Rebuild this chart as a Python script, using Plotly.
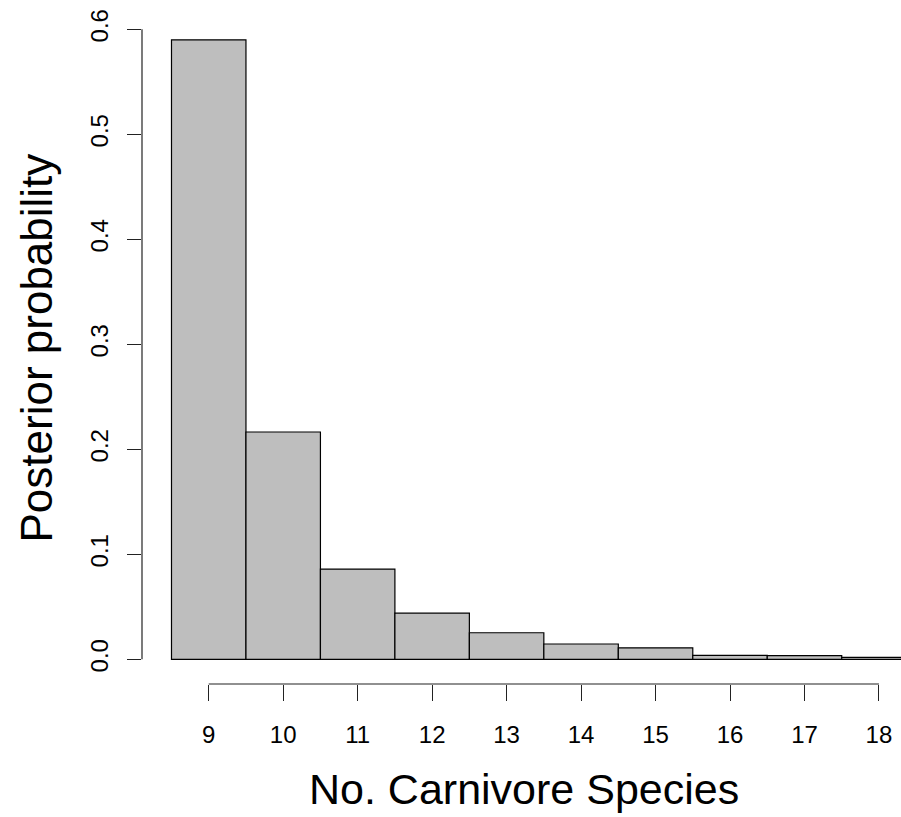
import plotly.graph_objects as go

species = [9, 10, 11, 12, 13, 14, 15, 16, 17, 18]
probability = [0.590, 0.2165, 0.086, 0.044, 0.0253, 0.0146, 0.011, 0.0038, 0.0035, 0.0018]
y_ticks = [0.0, 0.1, 0.2, 0.3, 0.4, 0.5, 0.6]
y_ticktext = ["0.0", "0.1", "0.2", "0.3", "0.4", "0.5", "0.6"]
x_ticks = species
x_ticktext = [str(s) for s in species]

FONT = "Liberation Sans, Arial, sans-serif"

fig = go.Figure()
fig.add_trace(go.Bar(
    x=species, y=probability, width=1.0,
    marker=dict(color="#BEBEBE", line=dict(color="#000000", width=1.2)),
    showlegend=False, hoverinfo="x+y",
))

fig.update_layout(
    width=901, height=817,
    margin=dict(l=142, r=0, t=20, b=133),
    paper_bgcolor="white", plot_bgcolor="white",
    font=dict(family=FONT, color="#000000"),
    xaxis=dict(
        range=[8.104, 18.296], tickmode="array", tickvals=x_ticks, ticktext=x_ticktext,
        ticks="outside", ticklen=16, tickwidth=1.2, tickcolor="#222222",
        showline=False, showgrid=False, zeroline=False,
        tickfont=dict(size=24, family=FONT), ticklabelstandoff=13,
    ),
    yaxis=dict(
        range=[-0.0235, 0.6089], tickmode="array", tickvals=y_ticks, ticktext=y_ticktext,
        ticks="outside", ticklen=14, tickwidth=1.2, tickcolor="#222222", tickangle=-90,
        showline=False, showgrid=False, zeroline=False,
        tickfont=dict(size=24, family=FONT), ticklabelstandoff=9,
    ),
    shapes=[
        dict(type="line", xref="x", yref="paper", x0=x_ticks[0], x1=x_ticks[-1], y0=0, y1=0,
             line=dict(color="#222222", width=1.2)),
        dict(type="line", xref="paper", yref="y", x0=0, x1=0, y0=y_ticks[0], y1=y_ticks[-1],
             line=dict(color="#222222", width=1.2)),
    ],
    annotations=[
        dict(text="No. Carnivore Species", xref="paper", yref="paper", x=(523.5-142)/759, y=-(789-684)/664,
             xanchor="center", yanchor="middle", showarrow=False, font=dict(size=43, family=FONT)),
        dict(text="Posterior probability", xref="paper", yref="paper", x=-(142-36)/759, y=(684-348.5)/664,
             xanchor="center", yanchor="middle", showarrow=False, textangle=-90,
             font=dict(size=44, family=FONT)),
    ],
)

fig.write_html(
    "out.html",
    config={"displayModeBar": False},
    post_script="document.body.style.margin='0';document.body.style.overflow='hidden';",
)
